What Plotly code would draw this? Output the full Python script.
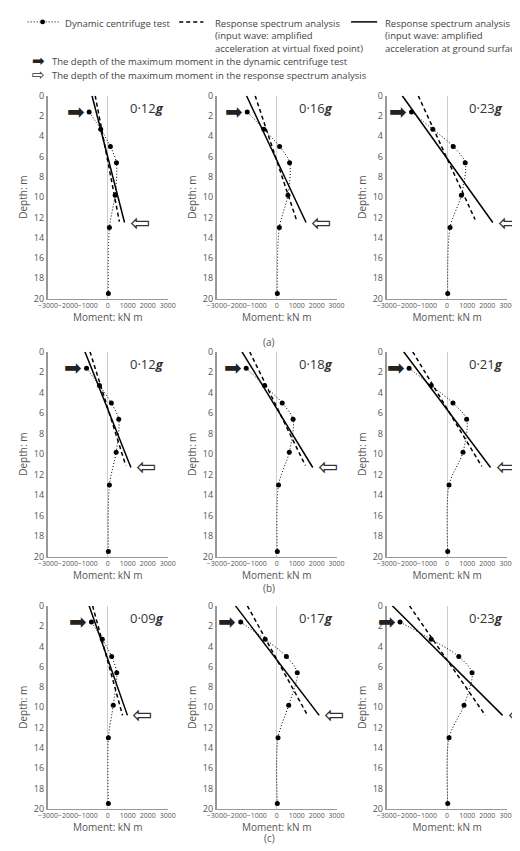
import plotly.graph_objects as go

W, H = 520, 851

depths = [1.6, 3.3, 5.0, 6.6, 9.8, 13.0, 19.5]
labels = ["0·12", "0·16", "0·23", "0·12", "0·18", "0·21", "0·09", "0·17", "0·23"]

# dynamic centrifuge test moments (kN m) at the depths above
test = [
    [-935, -355, 130, 435, 370, 80, 30],
    [-1480, -645, 145, 645, 565, 130, 30],
    [-1770, -710, 305, 900, 710, 145, 30],
    [-1065, -420, 177, 550, 420, 80, 30],
    [-1530, -610, 275, 820, 630, 90, 30],
    [-1890, -790, 290, 970, 790, 95, 30],
    [-820, -275, 195, 450, 275, 30, 30],
    [-1805, -580, 485, 1030, 600, 65, 30],
    [-2340, -790, 580, 1240, 840, 95, 30],
]
# response spectrum lines: (moment at top, moment at end, end depth)
dashed = [
    (-630, 580, 12.4), (-1080, 1015, 12.4), (-1435, 1390, 12.2),
    (-890, 900, 11.1), (-1355, 1435, 11.1), (-1710, 1725, 11.2),
    (-760, 740, 10.8), (-1470, 1545, 10.8), (-1870, 1900, 10.8),
]
solid = [
    (-790, 840, 12.5), (-1515, 1470, 12.5), (-2230, 2270, 12.5),
    (-1145, 1160, 11.3), (-1740, 1805, 11.3), (-2160, 2160, 11.3),
    (-935, 985, 10.8), (-2065, 2130, 10.8), (-2725, 2760, 10.8),
]

cols = [(31, 155), (206, 330), (382, 507)]
rows = [(82, 288), (342, 550), (600, 806)]
FONT = "Open Sans, Noto Sans, sans-serif"
GREY = "#555"

fig = go.Figure()
layout = dict(width=W, height=H, margin=dict(l=0, r=0, t=0, b=0),
              plot_bgcolor="white", paper_bgcolor="white", showlegend=False,
              font=dict(family=FONT, size=10, color=GREY))
ann, shapes = [], []

for i in range(9):
    r, c = divmod(i, 3)
    n = "" if i == 0 else str(i + 1)
    xa, ya = "x" + n, "y" + n
    x0, x1 = cols[c]
    y0, y1 = rows[r]
    layout["xaxis" + n] = dict(domain=[x0 / W, x1 / W], range=[-3000, 3000], anchor=ya,
                               tickvals=[-3000, -2000, -1000, 0, 1000, 2000, 3000],
                               ticktext=["−3000", "−2000", "−1000", "0", "1000", "2000", "3000"],
                               tickfont=dict(size=7), tickangle=0, showgrid=False, showline=True,
                               linecolor="#999", linewidth=1, ticks="", zeroline=True,
                               zerolinecolor="#ccc", zerolinewidth=1,
                               title=dict(text="Moment: kN m", font=dict(size=10), standoff=2))
    layout["yaxis" + n] = dict(domain=[1 - y1 / H, 1 - y0 / H], range=[20, 0], anchor=xa,
                               tickvals=list(range(0, 21, 2)), tickfont=dict(size=9),
                               showgrid=False, showline=True, linecolor="#999", linewidth=2,
                               zeroline=False, ticks="",
                               title=dict(text="Depth: m", font=dict(size=10), standoff=4))
    fig.add_trace(go.Scatter(x=test[i], y=depths, xaxis=xa, yaxis=ya, mode="lines+markers",
                             line=dict(color="black", width=1, dash="1px,2px", shape="spline", smoothing=0.8),
                             marker=dict(color="black", size=5)))
    d0, d1, dd = dashed[i]
    fig.add_trace(go.Scatter(x=[d0, d1], y=[0, dd], xaxis=xa, yaxis=ya, mode="lines",
                             line=dict(color="black", width=1.5, dash="4px,3px")))
    s0, s1, sd = solid[i]
    fig.add_trace(go.Scatter(x=[s0, s1], y=[0, sd], xaxis=xa, yaxis=ya, mode="lines",
                             line=dict(color="black", width=1.5)))
    ann.append(dict(x=2900, y=1.2, xref=xa, yref=ya, xanchor="right", showarrow=False,
                    text=labels[i] + "<b><i>g</i></b>", font=dict(size=13, color="#333")))
    ann.append(dict(x=test[i][0] - 120, y=depths[0], xref=xa, yref=ya, xanchor="right",
                    showarrow=False, text="➡", font=dict(family="DejaVu Sans", size=21, color="#222")))
    ann.append(dict(x=s1 + 150, y=sd, xref=xa, yref=ya, xanchor="left",
                    showarrow=False, text="⇦", font=dict(family="DejaVu Sans", size=24, color="#333")))

for lab, yy in zip(["(a)", "(b)", "(c)"], [332, 591, 845]):
    ann.append(dict(x=0.5, y=1 - yy / H, xref="paper", yref="paper", showarrow=False,
                    text=lab, font=dict(size=10)))


def px(x, y):
    return x / W, 1 - y / H


# legend
lt = dict(showarrow=False, xref="paper", yref="paper", xanchor="left", yanchor="top",
          align="left", font=dict(size=9.5, color="#444"))
shapes.append(dict(type="line", xref="paper", yref="paper", x0=px(10, 0)[0], x1=px(42, 0)[0],
                   y0=px(0, 7)[1], y1=px(0, 7)[1], line=dict(color="black", width=1, dash="1px,2px")))
shapes.append(dict(type="circle", xref="paper", yref="paper", x0=px(23, 0)[0], x1=px(28, 0)[0],
                   y0=px(0, 9.5)[1], y1=px(0, 4.5)[1], fillcolor="black", line=dict(width=0)))
shapes.append(dict(type="line", xref="paper", yref="paper", x0=px(167, 0)[0], x1=px(192, 0)[0],
                   y0=px(0, 7)[1], y1=px(0, 7)[1], line=dict(color="black", width=1.5, dash="4px,3px")))
shapes.append(dict(type="line", xref="paper", yref="paper", x0=px(345, 0)[0], x1=px(372, 0)[0],
                   y0=px(0, 7)[1], y1=px(0, 7)[1], line=dict(color="black", width=1.5)))
ann.append(dict(lt, x=px(47, 0)[0], y=px(0, 0)[1], text="Dynamic centrifuge test"))
ann.append(dict(lt, x=px(202, 0)[0], y=px(0, 0)[1],
                text="Response spectrum analysis<br>(input wave: amplified<br>acceleration at virtual fixed point)"))
ann.append(dict(lt, x=px(378, 0)[0], y=px(0, 0)[1],
                text="Response spectrum analysis<br>(input wave: amplified<br>acceleration at ground surface)"))
ann.append(dict(lt, x=px(12, 0)[0], y=px(0, 36)[1], font=dict(family="DejaVu Sans", size=15, color="#222"), text="➡"))
ann.append(dict(lt, x=px(12, 0)[0], y=px(0, 50)[1], font=dict(family="DejaVu Sans", size=15, color="#333"), text="⇨"))
ann.append(dict(lt, x=px(33, 0)[0], y=px(0, 39)[1],
                text="The depth of the maximum moment in the dynamic centrifuge test"))
ann.append(dict(lt, x=px(33, 0)[0], y=px(0, 53)[1],
                text="The depth of the maximum moment in the response spectrum analysis"))

layout["annotations"] = ann
layout["shapes"] = shapes
fig.update_layout(**layout)
fig.write_html("out.html")
